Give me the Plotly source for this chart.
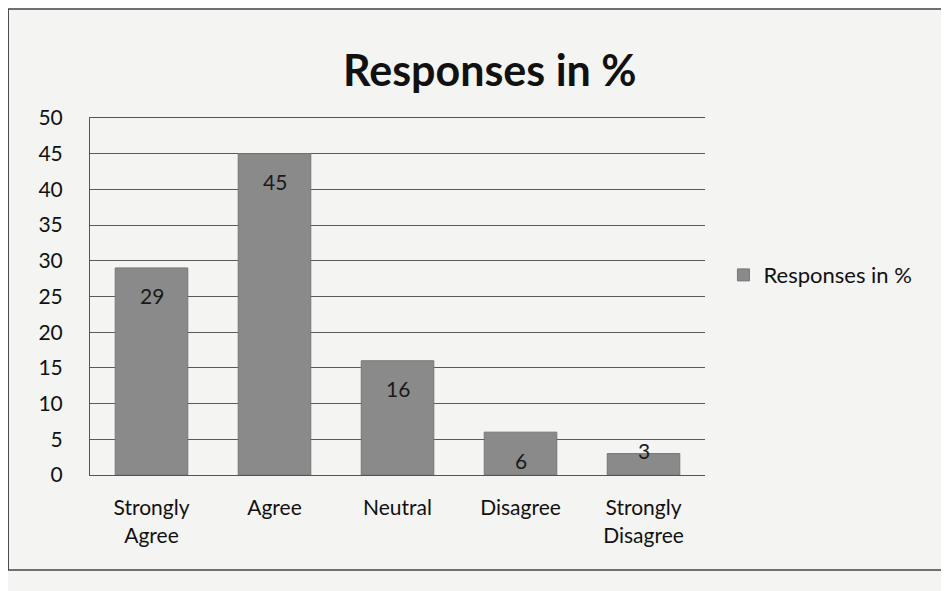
import plotly.graph_objects as go

categories = ["Strongly<br>Agree", "Agree", "Neutral", "Disagree", "Strongly<br>Disagree"]
values = [29, 45, 16, 6, 3]
series_name = "Responses in %"
y_ticks = [0, 5, 10, 15, 20, 25, 30, 35, 40, 45, 50]

FONT = "Lato, Open Sans, sans-serif"

fig = go.Figure()
fig.add_trace(go.Bar(
    x=categories, y=values, name=series_name,
    marker=dict(color="#8a8a8a", line=dict(color="#777", width=1)),
    showlegend=True,
))

# data labels near the top of each bar (inside end), small bar label sits at the top edge
for c, v in zip(categories, values):
    fig.add_annotation(x=c, y=v, text=str(v), showarrow=False,
                       yshift=-28 if v >= 5 else 3, font=dict(size=21, color="#1a1a1a", family=FONT))

fig.update_layout(
    width=941, height=583,
    paper_bgcolor="#f4f4f2", plot_bgcolor="#f4f4f2",
    margin=dict(l=82, r=244, t=110, b=116),
    bargap=0.41,
    title=dict(text="<b>Responses in %</b>", x=0.512, xanchor="center", y=0.892, yanchor="middle",
               font=dict(size=43, color="#111", family=FONT)),
    font=dict(family=FONT, color="#111"),
    legend=dict(x=1.03, y=0.56, xanchor="left", yanchor="middle",
                font=dict(size=22, color="#111", family=FONT), bgcolor="rgba(0,0,0,0)",
                itemwidth=30),
    shapes=[dict(type="rect", xref="paper", yref="paper", x0=-0.133, x1=1.6, y0=-0.266, y1=1.305,
                 line=dict(color="#444", width=1.5), fillcolor="rgba(0,0,0,0)", layer="below")],
)
fig.update_xaxes(showgrid=False, showline=True, mirror=True, linecolor="#555",
                 tickfont=dict(size=21, color="#111"), ticks="", ticklabelstandoff=14)
fig.update_yaxes(range=[0, 50], tickvals=y_ticks, showgrid=True, gridcolor="#5a5a5a", gridwidth=1,
                 showline=True, linecolor="#555", zeroline=False, ticks="",
                 tickfont=dict(size=21, color="#111"), ticklabelstandoff=22)

fig.write_html("out.html")
